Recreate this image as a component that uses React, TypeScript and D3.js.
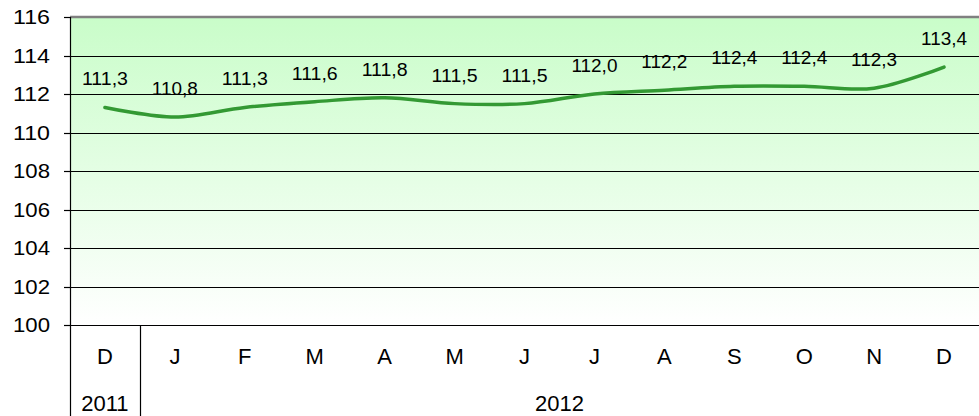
import React, { useRef, useEffect } from "react";
import * as d3 from "d3";

const months = ["D", "J", "F", "M", "A", "M", "J", "J", "A", "S", "O", "N", "D"];
const values = [111.3, 110.8, 111.3, 111.6, 111.8, 111.5, 111.5, 112.0, 112.2, 112.4, 112.4, 112.3, 113.4];
const years = [
  { label: "2011", from: 0, to: 0 },
  { label: "2012", from: 1, to: 12 },
];
const yTicks = [100, 102, 104, 106, 108, 110, 112, 114, 116];

const W = 979;
const H = 416;

const App = () => {
  const svgRef = useRef<SVGSVGElement>(null);

  useEffect(() => {
    const svg = d3.select(svgRef.current);
    svg.selectAll("*").remove();

    const left = 70;
    const right = 979;
    const top = 17;
    const bottom = 325;
    const font = "'Liberation Sans', Arial, sans-serif";

    const x = d3
      .scaleBand<number>()
      .domain(d3.range(months.length))
      .range([left, right]);
    const y = d3.scaleLinear().domain([100, 116]).range([bottom, top]);

    const defs = svg.append("defs");
    const grad = defs
      .append("linearGradient")
      .attr("id", "bg")
      .attr("x1", 0)
      .attr("y1", 0)
      .attr("x2", 0)
      .attr("y2", 1);
    grad.append("stop").attr("offset", "0%").attr("stop-color", "#c9fdc9");
    grad.append("stop").attr("offset", "100%").attr("stop-color", "#ffffff");

    svg
      .append("rect")
      .attr("x", left)
      .attr("y", top)
      .attr("width", right - left)
      .attr("height", bottom - top)
      .attr("fill", "url(#bg)");

    // gridlines
    svg
      .selectAll("line.grid")
      .data(yTicks.filter((t) => t < 116))
      .enter()
      .append("line")
      .attr("x1", left)
      .attr("x2", right)
      .attr("y1", (d) => Math.round(y(d)) + 0.5)
      .attr("y2", (d) => Math.round(y(d)) + 0.5)
      .attr("stroke", "#000")
      .attr("stroke-width", 1.2);

    // top border
    svg
      .append("line")
      .attr("x1", left)
      .attr("x2", right)
      .attr("y1", top)
      .attr("y2", top)
      .attr("stroke", "#808080")
      .attr("stroke-width", 2.5);

    // y ticks
    svg
      .selectAll("line.ytick")
      .data(yTicks)
      .enter()
      .append("line")
      .attr("x1", left - 6)
      .attr("x2", left)
      .attr("y1", (d) => Math.round(y(d)) + 0.5)
      .attr("y2", (d) => Math.round(y(d)) + 0.5)
      .attr("stroke", "#000")
      .attr("stroke-width", 1.2);

    svg
      .selectAll("text.ylab")
      .data(yTicks)
      .enter()
      .append("text")
      .attr("x", left - 20)
      .attr("y", (d) => y(d))
      .attr("dy", "0.36em")
      .attr("text-anchor", "end")
      .attr("font-family", font)
      .attr("font-size", 20.5)
      .attr("textLength", 37)
      .attr("lengthAdjust", "spacingAndGlyphs")
      .text((d) => d);

    // axis line extended through category area
    svg
      .append("line")
      .attr("x1", left + 0.5)
      .attr("x2", left + 0.5)
      .attr("y1", top)
      .attr("y2", H)
      .attr("stroke", "#000")
      .attr("stroke-width", 1.2);

    // year separators
    years.slice(1).forEach((yr) => {
      const xs = Math.round(x(yr.from)!) + 0.5;
      svg
        .append("line")
        .attr("x1", xs)
        .attr("x2", xs)
        .attr("y1", bottom)
        .attr("y2", H)
        .attr("stroke", "#000")
        .attr("stroke-width", 1.2);
    });

    // month labels
    svg
      .selectAll("text.month")
      .data(months)
      .enter()
      .append("text")
      .attr("x", (_, i) => x(i)! + x.bandwidth() / 2)
      .attr("y", 364)
      .attr("text-anchor", "middle")
      .attr("font-family", font)
      .attr("font-size", 22)
      .text((d) => d);

    // year labels
    svg
      .selectAll("text.year")
      .data(years)
      .enter()
      .append("text")
      .attr("x", (d) => (x(d.from)! + x(d.to)! + x.bandwidth()) / 2)
      .attr("y", 411)
      .attr("text-anchor", "middle")
      .attr("font-family", font)
      .attr("font-size", 22)
      .text((d) => d.label);

    // line
    const line = d3
      .line<number>()
      .x((_, i) => x(i)! + x.bandwidth() / 2)
      .y((d) => y(d))
      .curve(d3.curveCatmullRom.alpha(0.5));

    svg
      .append("path")
      .datum(values)
      .attr("d", line)
      .attr("fill", "none")
      .attr("stroke", "#339933")
      .attr("stroke-width", 3.5)
      .attr("stroke-linecap", "round");

    // data labels, kept inside the right edge
    const labelW = 46;
    svg
      .selectAll("text.val")
      .data(values)
      .enter()
      .append("text")
      .attr("x", (_, i) => Math.min(x(i)! + x.bandwidth() / 2, W - 2 - labelW / 2))
      .attr("y", (d) => y(d) - 22)
      .attr("text-anchor", "middle")
      .attr("font-family", font)
      .attr("font-size", 17.5)
      .attr("textLength", labelW)
      .attr("lengthAdjust", "spacingAndGlyphs")
      .text((d) => d.toFixed(1).replace(".", ","));
  }, []);

  return (
    <div style={{ position: "absolute", left: 0, top: 0 }}>
      <svg ref={svgRef} width={W} height={H} style={{ display: "block" }}></svg>
    </div>
  );
};

export default App;
